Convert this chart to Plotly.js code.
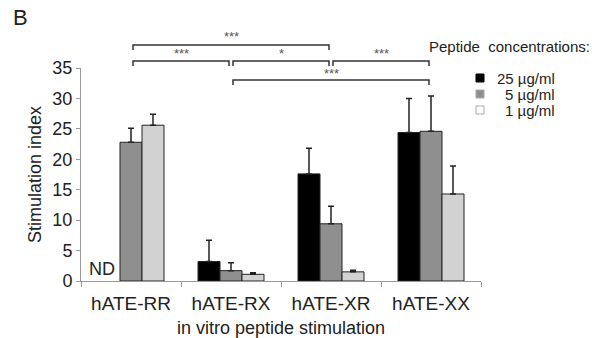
<!DOCTYPE html>
<html>
<head>
<meta charset="utf-8">
<script src="https://cdn.plot.ly/plotly-3.0.1.min.js"></script>
<style>html,body{margin:0;padding:0;background:#fff;}#chart{width:595px;height:338px;}</style>
</head>
<body>
<div id="chart"></div>
<script>
// ---- data ----
var categories = ['hATE-RR', 'hATE-RX', 'hATE-XR', 'hATE-XX'];
var seriesNames = ['25 µg/ml', '5 µg/ml', '1 µg/ml'];
var values25 = [null, 3.2, 17.6, 24.4];
var errors25 = [null, 3.5, 4.2, 5.6];
var values5 = [22.8, 1.7, 9.4, 24.6];
var errors5 = [2.3, 1.3, 2.9, 5.8];
var values1 = [25.6, 1.1, 1.5, 14.3];
var errors1 = [1.8, 0.25, 0.25, 4.6];
var yTicks = [0, 5, 10, 15, 20, 25, 30, 35];
// significance brackets: [fromCategory, toCategory, row, label]
var brackets = [[0, 2, 0, '***'], [0, 1, 1, '***'], [1, 2, 1, '*'], [2, 3, 1, '***'], [1, 3, 2, '***']];

// ---- styles ----
var colors = ['#000000', '#8f8f8f', '#d2d2d2'];
var FONT = 'Liberation Sans, Arial, sans-serif';
var TXT = '#222';
var L = 81, R = 114, T = 68, B = 57, W = 595, H = 338;
var PW = W - L - R, PH = H - T - B;
function px(xp) { return (xp - L) / PW; }
function py(yp) { return (H - B - yp) / PH; }

var allVals = [values25, values5, values1];
var allErrs = [errors25, errors5, errors1];
var traces = allVals.map(function (v, i) {
  return {
    type: 'bar', name: seriesNames[i], x: categories, y: v,
    marker: { color: colors[i], line: { color: '#222', width: 1 } },
    error_y: {
      type: 'data', symmetric: false, array: allErrs[i],
      arrayminus: allErrs[i].map(function () { return 0; }),
      color: '#222', thickness: 1.5, width: 3
    },
    showlegend: false, hoverinfo: 'skip'
  };
});

var shapes = [], annotations = [];
var rowY = [45, 61, 80], rowLabelY = [37, 53, 73];
brackets.forEach(function (b) {
  var x0 = (b[0] + 0.5) / categories.length, x1 = (b[1] + 0.5) / categories.length;
  var y = py(rowY[b[2]]), yd = py(rowY[b[2]] + 5);
  var off = 2 / PW;
  shapes.push({
    type: 'path', xref: 'paper', yref: 'paper',
    path: 'M' + (x0 + off) + ',' + yd + ' L' + (x0 + off) + ',' + y + ' L' + (x1 - off) + ',' + y + ' L' + (x1 - off) + ',' + yd,
    line: { color: '#333', width: 1.5 }
  });
  annotations.push({
    xref: 'paper', yref: 'paper', x: (x0 + x1) / 2, y: py(rowLabelY[b[2]]),
    text: b[3], showarrow: false, font: { family: FONT, size: 13, color: '#555' },
    xanchor: 'center', yanchor: 'middle'
  });
});

// manual legend
var legRowY = [78, 94, 110];
seriesNames.forEach(function (n, i) {
  shapes.push({
    type: 'rect', xref: 'paper', yref: 'paper',
    x0: px(476), x1: px(484), y0: py(legRowY[i] - 4), y1: py(legRowY[i] + 4),
    fillcolor: colors[i] === '#d2d2d2' ? '#ffffff' : colors[i], line: { color: i === 0 ? '#000' : '#aaa', width: 1 }
  });
  annotations.push({
    xref: 'paper', yref: 'paper', x: px(556), y: py(legRowY[i]),
    text: n, showarrow: false, font: { family: FONT, size: 15, color: TXT },
    xanchor: 'right', yanchor: 'middle', borderpad: 0
  });
});
annotations.push({
  xref: 'paper', yref: 'paper', x: px(427), y: py(46),
  text: 'Peptide  concentrations:', showarrow: false, font: { family: FONT, size: 15, color: TXT },
  xanchor: 'left', yanchor: 'middle'
});
annotations.push({
  xref: 'paper', yref: 'paper', x: px(11), y: py(18),
  text: 'B', showarrow: false, font: { family: FONT, size: 22, color: TXT },
  xanchor: 'left', yanchor: 'middle'
});
annotations.push({
  xref: 'x', yref: 'y', x: -0.295, y: 0, yshift: 0,
  text: 'ND', showarrow: false, font: { family: FONT, size: 18, color: TXT },
  xanchor: 'center', yanchor: 'bottom'
});

var layout = {
  width: W, height: H,
  margin: { l: L, r: R, t: T, b: B, pad: 0 },
  paper_bgcolor: '#fff', plot_bgcolor: '#fff',
  font: { family: FONT, color: TXT },
  barmode: 'group', bargap: 0.34, bargroupgap: 0,
  showlegend: false,
  xaxis: {
    type: 'category', tickson: 'boundaries', ticks: 'outside', ticklen: 5, tickcolor: '#999',
    showline: true, linecolor: '#999', linewidth: 1, showgrid: false, zeroline: false,
    tickfont: { family: FONT, size: 19, color: TXT }, ticklabelstandoff: 5,
    title: { text: 'in vitro peptide stimulation\u00a0\u00a0\u00a0\u00a0', font: { family: FONT, size: 18, color: TXT }, standoff: 8 }
  },
  yaxis: {
    range: [0, 35], tickvals: yTicks, ticks: 'outside', ticklen: 4, tickcolor: '#999',
    showline: true, linecolor: '#999', linewidth: 1, showgrid: false, zeroline: false,
    tickfont: { family: FONT, size: 18, color: TXT },
    title: { text: 'Stimulation index', font: { family: FONT, size: 18, color: TXT }, standoff: 6 }
  },
  shapes: shapes,
  annotations: annotations
};

Plotly.newPlot('chart', traces, layout, { displayModeBar: false, staticPlot: true });
</script>
</body>
</html>
